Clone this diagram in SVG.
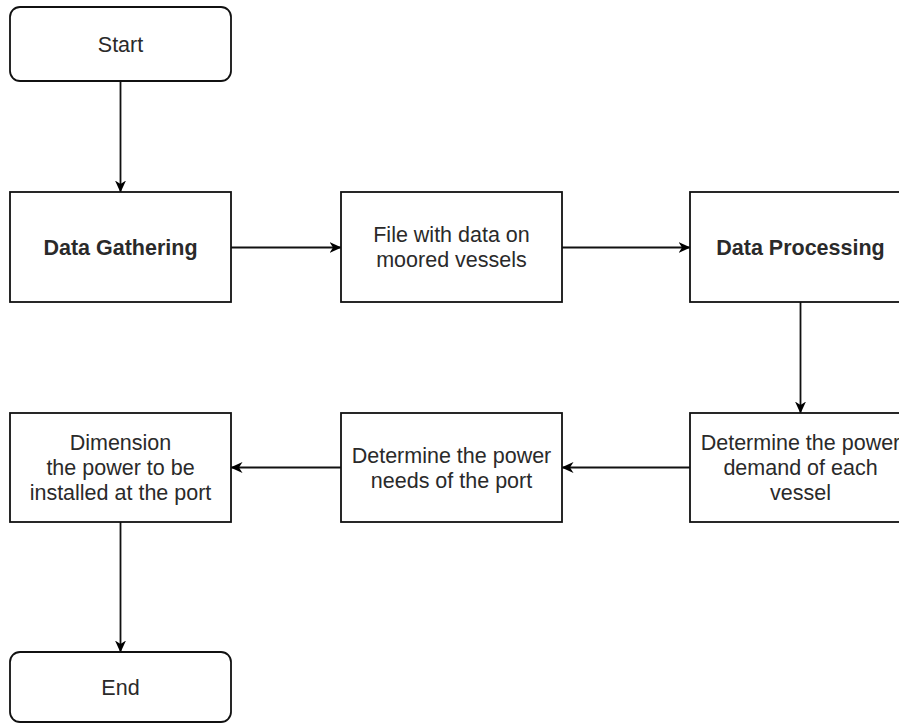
<svg xmlns="http://www.w3.org/2000/svg" width="899" height="724" viewBox="0 0 899 724">
<defs>
<style>
.box{fill:#fff;stroke:#111;stroke-width:1.8}
.t{font-family:"Liberation Sans",Arial,sans-serif;font-size:21.5px;fill:#2a2a2a;text-anchor:middle}
.b{font-weight:bold}
.c{fill:none;stroke:#111;stroke-width:1.8}
</style>
<marker id="ah" viewBox="0 0 12 12" refX="11.5" refY="6" markerWidth="12" markerHeight="12" markerUnits="userSpaceOnUse" orient="auto">
<path d="M0,0.5 L12,6 L0,11.5 L3.5,6 Z" fill="#000"/>
</marker>
</defs>
<rect width="899" height="724" fill="#fff"/>
<g id="connectors">
<path class="c" d="M120.5,81 L120.5,192" marker-end="url(#ah)"/>
<path class="c" d="M231,247.5 L341,247.5" marker-end="url(#ah)"/>
<path class="c" d="M562,247.5 L690,247.5" marker-end="url(#ah)"/>
<path class="c" d="M800.5,302 L800.5,413" marker-end="url(#ah)"/>
<path class="c" d="M690,467.5 L562,467.5" marker-end="url(#ah)"/>
<path class="c" d="M341,467.5 L231,467.5" marker-end="url(#ah)"/>
<path class="c" d="M120.5,522 L120.5,652" marker-end="url(#ah)"/>
</g>
<g id="start">
<rect class="box" x="10" y="7" width="221" height="74" rx="10"/>
<text class="t" x="120.5" y="52">Start</text>
</g>
<g id="data-gathering">
<rect class="box" x="10" y="192" width="221" height="110"/>
<text class="t b" x="120.5" y="255">Data Gathering</text>
</g>
<g id="file">
<rect class="box" x="341" y="192" width="221" height="110"/>
<text class="t" x="451.5" y="242">File with data on</text>
<text class="t" x="451.5" y="267">moored vessels</text>
</g>
<g id="data-processing">
<rect class="box" x="690" y="192" width="221" height="110"/>
<text class="t b" x="800.5" y="255">Data Processing</text>
</g>
<g id="power-demand">
<rect class="box" x="690" y="413" width="221" height="109"/>
<text class="t" x="800.5" y="450">Determine the power</text>
<text class="t" x="800.5" y="475">demand of each</text>
<text class="t" x="800.5" y="500">vessel</text>
</g>
<g id="power-needs">
<rect class="box" x="341" y="413" width="221" height="109"/>
<text class="t" x="451.5" y="463">Determine the power</text>
<text class="t" x="451.5" y="488">needs of the port</text>
</g>
<g id="dimension">
<rect class="box" x="10" y="413" width="221" height="109"/>
<text class="t" x="120.5" y="450">Dimension</text>
<text class="t" x="120.5" y="475">the power to be</text>
<text class="t" x="120.5" y="500">installed at the port</text>
</g>
<g id="end">
<rect class="box" x="10" y="652" width="221" height="70" rx="10"/>
<text class="t" x="120.5" y="695">End</text>
</g>
</svg>
